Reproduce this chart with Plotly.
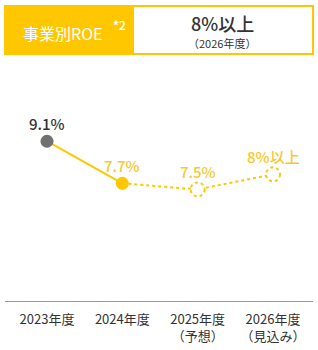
import plotly.graph_objects as go

categories = ["2023年度", "2024年度", "2025年度<br>（予想）", "2026年度<br>（見込み）"]
roe_values = [9.1, 7.7, 7.5, 8.0]
value_labels = ["9.1%", "7.7%", "7.5%", "8%以上"]
header_title = "事業別ROE"
header_note = "*2"
target_text = "8%以上"
target_year = "（2026年度）"

YELLOW = "#FFC700"
LABEL_YELLOW = "#F9C82A"
GRAY = "#707070"
TEXT = "#333333"
FONT = "Noto Sans CJK JP"

xs = list(range(len(categories)))

fig = go.Figure()
fig.add_trace(go.Scatter(x=xs[:2], y=roe_values[:2], mode="lines",
                         line=dict(color=YELLOW, width=2), hoverinfo="skip"))
fig.add_trace(go.Scatter(x=xs[1:], y=roe_values[1:], mode="lines",
                         line=dict(color=YELLOW, width=2, dash="dot"), hoverinfo="skip"))
fig.add_trace(go.Scatter(x=xs[:2], y=roe_values[:2], mode="markers",
                         marker=dict(size=13, color=[GRAY, YELLOW], line=dict(width=0)),
                         hoverinfo="skip"))

for i in range(2, len(xs)):
    fig.add_shape(type="circle", xref="x", yref="y",
                  xsizemode="pixel", ysizemode="pixel",
                  xanchor=xs[i], yanchor=roe_values[i],
                  x0=-7, x1=7, y0=-7, y1=7,
                  line=dict(color=YELLOW, width=2, dash="dot"),
                  fillcolor="white", layer="above")

label_colors = [TEXT, LABEL_YELLOW, LABEL_YELLOW, LABEL_YELLOW]
for i in xs:
    fig.add_annotation(x=xs[i], y=roe_values[i], xref="x", yref="y",
                       text=value_labels[i], showarrow=False, yshift=18,
                       xanchor="center", yanchor="middle",
                       font=dict(family=FONT, size=15, color=label_colors[i], weight=500))

W, H = 318, 350
fig.update_layout(
    width=W, height=H,
    margin=dict(l=5, r=5, t=60, b=44),
    paper_bgcolor="white", plot_bgcolor="white",
    showlegend=False,
    xaxis=dict(range=[-0.5575, 3.531], tickmode="array", tickvals=xs, ticktext=categories,
               showgrid=False, zeroline=False, showline=True, linecolor="#9a9a9a", linewidth=1,
               ticks="", ticklabelstandoff=6,
               tickfont=dict(family=FONT, size=13, color=TEXT), fixedrange=True),
    yaxis=dict(range=[3.79, 11.8], visible=False, fixedrange=True),
)

plot_l, plot_r, plot_t, plot_b = 5, 313, 60, 306
def ppx(x):
    return (x - plot_l) / (plot_r - plot_l)
def ppy(y):
    return (plot_b - y) / (plot_b - plot_t)

fig.add_shape(type="rect", xref="paper", yref="paper",
              x0=ppx(5), x1=ppx(313), y0=ppy(54), y1=ppy(5),
              line=dict(color=YELLOW, width=2), fillcolor="white")
fig.add_shape(type="rect", xref="paper", yref="paper",
              x0=ppx(5), x1=ppx(134), y0=ppy(54), y1=ppy(5),
              line=dict(width=0), fillcolor=YELLOW)

fig.add_annotation(xref="paper", yref="paper", x=ppx(62), y=ppy(32),
                   xanchor="center", yanchor="middle",
                   text=header_title, showarrow=False,
                   font=dict(family=FONT, size=16, color="white"))
fig.add_annotation(xref="paper", yref="paper", x=ppx(119), y=ppy(24),
                   xanchor="center", yanchor="middle",
                   text=f"<b>{header_note[0]}</b>{header_note[1:]}", showarrow=False,
                   font=dict(family=FONT, size=12, color="white", weight=500))
fig.add_annotation(xref="paper", yref="paper", x=ppx(222), y=ppy(22),
                   xanchor="center", yanchor="middle",
                   text=target_text, showarrow=False,
                   font=dict(family=FONT, size=18, color=TEXT, weight=500))
fig.add_annotation(xref="paper", yref="paper", x=ppx(222), y=ppy(43),
                   xanchor="center", yanchor="middle",
                   text=target_year, showarrow=False,
                   font=dict(family=FONT, size=11, color=TEXT))

fig.write_html("out.html")
